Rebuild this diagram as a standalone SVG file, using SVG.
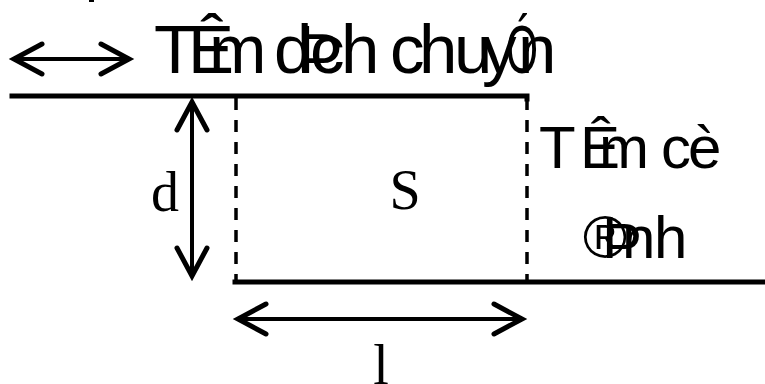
<svg xmlns="http://www.w3.org/2000/svg" width="765" height="384" viewBox="0 0 765 384">
<style>
.plate{stroke:#000;stroke-width:5;fill:none;stroke-linecap:square}
.dash{stroke:#000;stroke-width:3.5;fill:none;stroke-dasharray:12 10}
.arr{stroke:#000;stroke-width:4;fill:none;marker-start:url(#chev);marker-end:url(#chev)}
.sans{font-family:"Liberation Sans",Arial,sans-serif;fill:#000}
.serif{font-family:"Liberation Serif","Times New Roman",serif;fill:#000;font-size:56px}
</style>
<defs>
<marker id="chev" markerUnits="userSpaceOnUse" orient="auto-start-reverse" refX="0" refY="0" markerWidth="40" markerHeight="40" viewBox="-35 -20 40 40" overflow="visible">
<path d="M-28 -15 L0 0 L-28 15" fill="none" stroke="#000" stroke-width="5" stroke-linecap="round" stroke-linejoin="miter"/>
</marker>
</defs>
<rect x="89" y="0" width="5" height="2" fill="#000"/>
<g id="moving-plate">
<path class="plate" d="M12 96 H527 V99"/>
<text class="sans" y="73" font-size="69" x="154 188 209 245 274 297 310 341 370 390 419 454 482">TÊm dÞch chuy<tspan x="506" textLength="32" lengthAdjust="spacingAndGlyphs">Ó</tspan><tspan x="518">n</tspan></text>
</g>
<g id="fixed-plate">
<path class="plate" d="M235 282 H767"/>
<text class="sans" y="168" font-size="60" x="539 580 599 640 661 688">TÊm cè</text>
<text class="sans" y="258" font-size="60" x="583 602 622 654">®Þnh</text>
</g>
<g id="area">
<line class="dash" x1="236" y1="98" x2="236" y2="280"/>
<line class="dash" x1="527" y1="98" x2="527" y2="280"/>
<text class="serif" x="405" y="209" text-anchor="middle">S</text>
</g>
<g id="labels">
<text class="serif" x="165" y="211" text-anchor="middle">d</text>
<text class="serif" x="381" y="384" text-anchor="middle">l</text>
</g>
<g id="connectors">
<line class="arr" x1="14" y1="59" x2="129" y2="59"/>
<line class="arr" x1="192" y1="102" x2="192" y2="276"/>
<line class="arr" x1="238" y1="319" x2="522" y2="319"/>
</g>
</svg>
